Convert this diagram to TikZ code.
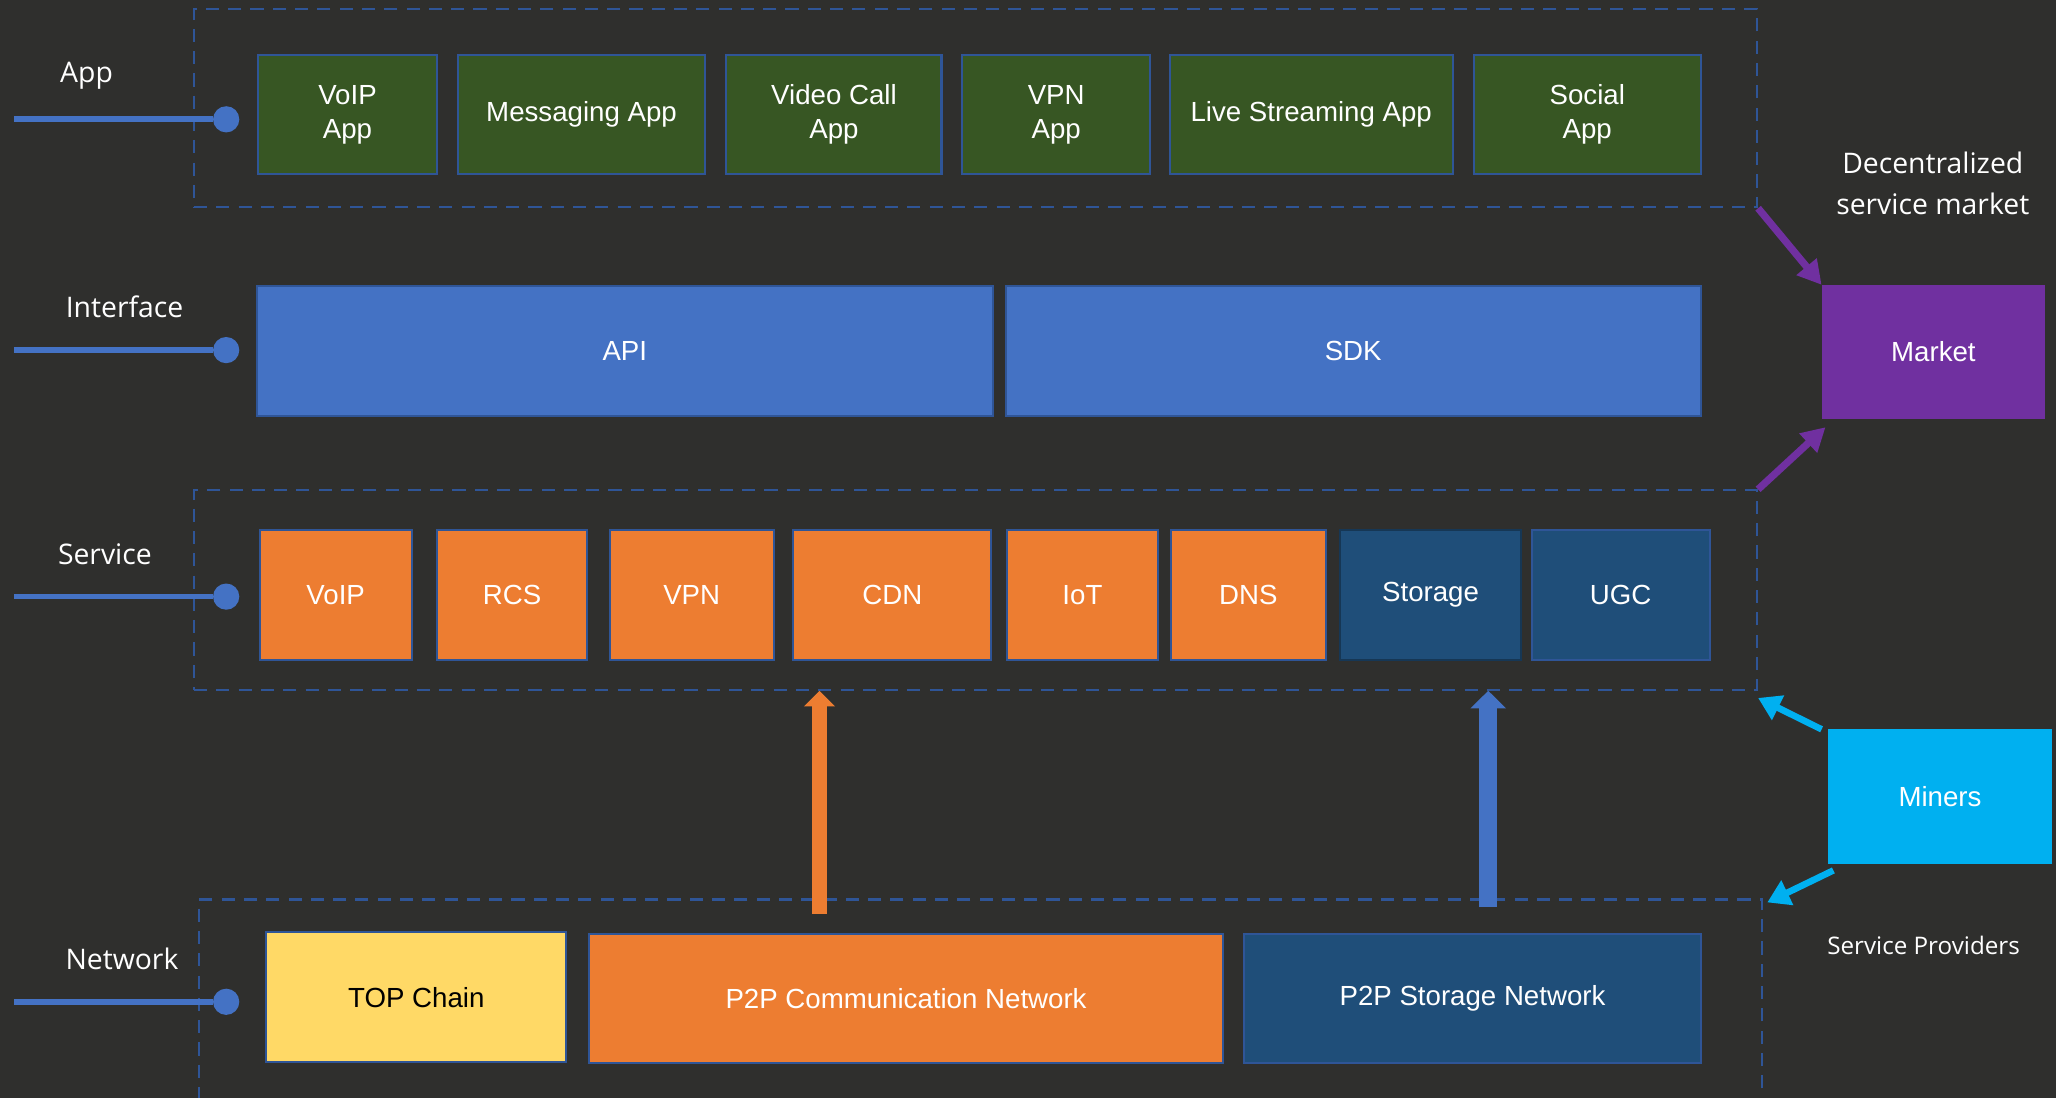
\documentclass[tikz,border=0pt]{standalone}
\usepackage{fontspec}
\setmainfont{Liberation Sans}
\newfontfamily\sidefont{Open Sans}
\usetikzlibrary{arrows.meta}
\definecolor{bg}{HTML}{2F2F2D}
\definecolor{appgreen}{HTML}{375623}
\definecolor{ifblue}{HTML}{4472C4}
\definecolor{svorange}{HTML}{ED7D31}
\definecolor{navy}{HTML}{1F4E79}
\definecolor{edgeblue}{HTML}{2F5597}
\definecolor{mkpurple}{HTML}{7030A0}
\definecolor{mncyan}{HTML}{00B0F0}
\definecolor{chainyellow}{HTML}{FFD966}

\begin{document}
\begin{tikzpicture}
  [font=\fontsize{12}{14.7}\selectfont,
   block/.style={draw=edgeblue,line width=0.9pt,text=white,align=center,inner sep=0pt,minimum height=1.98cm},
   appbox/.style={block,fill=appgreen,minimum height=1.82cm},
   svbox/.style={block,fill=svorange},
   nvbox/.style={block,fill=navy},
   layer/.style={draw=edgeblue,line width=0.9pt,dash pattern=on 0.2cm off 0.14cm,inner sep=0pt},
   sidelabel/.style={text=white,font=\sidefont\fontsize{12.3}{17.6}\selectfont,align=center},
   dot/.style={circle,fill=ifblue,inner sep=0pt,minimum size=0.4cm},
   marker/.style={ifblue,line width=2.5pt},
   mkarrow/.style={mkpurple,line width=0.11cm,-{Triangle[width=0.38cm,length=0.36cm]}},
   mnarrow/.style={mncyan,line width=0.1cm,-{Triangle[width=0.4cm,length=0.34cm]}}]
  \useasboundingbox (0,0) rectangle (31.36,-16.74);
  \fill[bg] (0,0) rectangle (31.36,-16.74);

  \node[layer,minimum width=23.84cm,minimum height=3.02cm] (appLayer) at (14.88,-1.65) {};
  \node[layer,minimum width=23.84cm,minimum height=3.04cm] (srvLayer) at (14.88,-9.0) {};
  \node[layer,minimum width=23.84cm,minimum height=4.2cm] (netLayer) at (14.96,-15.82) {};

  \node[appbox,minimum width=2.72cm] (aVoip) at (5.3,-1.75) {VoIP\\App};
  \node[appbox,minimum width=3.78cm] (aMsg) at (8.87,-1.75) {Messaging App};
  \node[appbox,minimum width=3.28cm] (aVideo) at (12.72,-1.75) {Video Call\\App};
  \node[appbox,minimum width=2.86cm] (aVpn) at (16.11,-1.75) {VPN\\App};
  \node[appbox,minimum width=4.32cm] (aLive) at (20.0,-1.75) {Live Streaming App};
  \node[appbox,minimum width=3.46cm] (aSocial) at (24.21,-1.75) {Social\\App};

  \node[block,fill=ifblue,minimum width=11.22cm] (api) at (9.53,-5.35) {API};
  \node[block,fill=ifblue,minimum width=10.6cm] (sdk) at (20.64,-5.35) {SDK};
  \node[block,draw=mkpurple,fill=mkpurple,minimum width=3.38cm,minimum height=2.02cm] (market) at (29.49,-5.37) {Market};

  \node[svbox,minimum width=2.32cm] (sVoip) at (5.12,-9.07) {VoIP};
  \node[svbox,minimum width=2.3cm] (sRcs) at (7.81,-9.07) {RCS};
  \node[svbox,minimum width=2.5cm] (sVpn) at (10.55,-9.07) {VPN};
  \node[svbox,minimum width=3.02cm] (sCdn) at (13.61,-9.07) {CDN};
  \node[svbox,minimum width=2.3cm] (sIot) at (16.51,-9.07) {IoT};
  \node[svbox,minimum width=2.36cm] (sDns) at (19.04,-9.07) {DNS};
  \node[nvbox,draw=navy!70!black,minimum width=2.76cm] (sStorage) at (21.82,-9.07) {Storage};
  \node[nvbox,minimum width=2.72cm] (sUgc) at (24.72,-9.07) {UGC};

  \node[block,draw=mncyan,fill=mncyan,minimum width=3.38cm,minimum height=2.02cm] (miners) at (29.59,-12.15) {Miners};

  \node[block,fill=chainyellow,text=black,minimum width=4.58cm] (topChain) at (6.35,-15.21) {TOP Chain};
  \node[svbox,minimum width=9.68cm] (p2pComm) at (13.82,-15.23) {P2P Communication Network};
  \node[nvbox,minimum width=6.96cm] (p2pStore) at (22.46,-15.23) {P2P Storage Network};

  \node[sidelabel] (lApp) at (1.32,-1.16) {App};
  \node[sidelabel] (lIf) at (1.9,-4.68) {Interface};
  \node[sidelabel] (lSrv) at (1.6,-8.46) {Service};
  \node[sidelabel] (lNet) at (1.86,-14.62) {Network};
  \node[sidelabel] (lMarket) at (29.48,-2.8) {Decentralized\\service market};
  \node[sidelabel,font=\sidefont\fontsize{10.5}{13}\selectfont] (lProv) at (29.34,-14.42) {Service Providers};

  \foreach \name/\y in {App/-1.82,If/-5.34,Srv/-9.1,Net/-15.28} {
    \node[dot] (d\name) at (3.45,\y) {};
    \coordinate (e\name) at (0.22,\y);
    \draw[marker] (e\name) -- (d\name);
  }

  \coordinate (commUp) at (12.5,-13.94);
  \coordinate (storeUp) at (22.7,-13.84);
  \draw[svorange,line width=0.23cm,-{Triangle[width=0.46cm,length=0.24cm]}] (commUp) -- (commUp |- srvLayer.south);
  \draw[ifblue,line width=0.27cm,-{Triangle[width=0.53cm,length=0.27cm]}] (storeUp) -- (storeUp |- srvLayer.south);

  \draw[mkarrow] (appLayer.south east) -- (market.north west);
  \draw[mkarrow] (srvLayer.north east) -- ([shift={(0.06,-0.12)}]market.south west);
  \draw[mnarrow] ([xshift=-0.1cm]miners.north west) -- ([yshift=-0.11cm]srvLayer.south east);
  \draw[mnarrow] ([shift={(0.08,-0.1)}]miners.south west) -- ([shift={(0.06,-0.06)}]netLayer.north east);

\end{tikzpicture}
\end{document}
